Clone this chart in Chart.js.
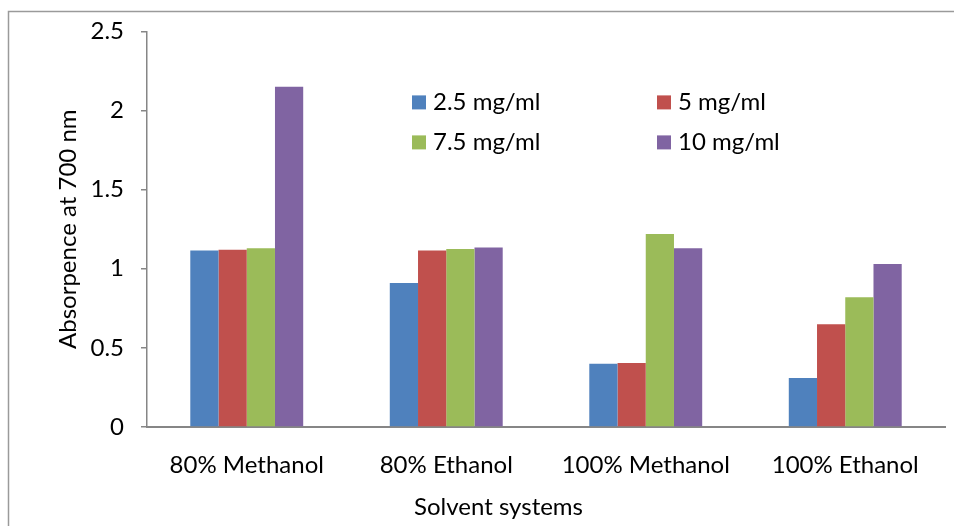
<!DOCTYPE html>
<html>
<head>
<meta charset="utf-8">
<script src="https://cdn.jsdelivr.net/npm/chart.js@4.4.1/dist/chart.umd.min.js"></script>
<style>
  html, body { margin: 0; padding: 0; background: #ffffff; }
  #wrap { width: 954px; height: 526px; position: relative; }
</style>
</head>
<body>
<div id="wrap"><canvas id="chart" width="954" height="526"></canvas></div>
<script>
// Solvent systems on the category axis
const solvents = ['80% Methanol', '80% Ethanol', '100% Methanol', '100% Ethanol'];

// Absorbance at 700 nm for each extract concentration
const conc25 = [1.115, 0.91, 0.40, 0.31];
const conc5 = [1.12, 1.115, 0.405, 0.65];
const conc75 = [1.13, 1.125, 1.22, 0.82];
const conc10 = [2.15, 1.135, 1.13, 1.03];

const seriesNames = ['2.5 mg/ml', '5 mg/ml', '7.5 mg/ml', '10 mg/ml'];
const yTickLabels = ['0', '0.5', '1', '1.5', '2', '2.5'];

const colors = ['#4F81BD', '#C0504D', '#9BBB59', '#8064A2'];
const FONT = 'Lato';

// Outer frame around the figure
const framePlugin = {
  id: 'frame',
  beforeDraw(chart) {
    const ctx = chart.ctx;
    ctx.save();
    ctx.fillStyle = '#ffffff';
    ctx.fillRect(0, 0, chart.width, chart.height);
    ctx.strokeStyle = '#9a9a9a';
    ctx.lineWidth = 1.5;
    ctx.strokeRect(8.5, 11.5, chart.width + 20, chart.height + 20);
    ctx.restore();
  }
};

// Two-column legend inside the plot area
const gridLegend = {
  id: 'gridLegend',
  afterDraw(chart) {
    const ctx = chart.ctx;
    const area = chart.chartArea;
    const colX = [area.left + 265, area.left + 510];
    const rowY = [area.top + 79, area.top + 119];
    ctx.save();
    ctx.font = '24px ' + FONT;
    ctx.textBaseline = 'alphabetic';
    ctx.textAlign = 'left';
    chart.data.datasets.forEach((ds, i) => {
      const x = colX[i % 2];
      const y = rowY[Math.floor(i / 2)];
      ctx.fillStyle = ds.backgroundColor;
      ctx.fillRect(x, y - 15, 14, 14);
      ctx.fillStyle = '#000000';
      ctx.fillText(ds.label, x + 21, y);
    });
    ctx.restore();
  }
};

const seriesValues = [conc25, conc5, conc75, conc10];

new Chart(document.getElementById('chart'), {
  type: 'bar',
  data: {
    labels: solvents,
    datasets: seriesNames.map((name, i) => ({
      label: name,
      data: seriesValues[i],
      backgroundColor: colors[i],
      borderWidth: 0,
      categoryPercentage: 0.566,
      barPercentage: 1.0
    }))
  },
  options: {
    responsive: false,
    animation: false,
    devicePixelRatio: 1,
    layout: { padding: { left: 52, top: 29, right: 9, bottom: 0 } },
    plugins: {
      legend: { display: false },
      tooltip: { enabled: false },
      title: {
        display: true,
        position: 'bottom',
        text: 'Solvent systems',
        color: '#000000',
        font: { family: FONT, size: 24, weight: 'normal' },
        padding: { top: 0, bottom: 4 }
      }
    },
    scales: {
      x: {
        grid: { display: false, drawTicks: false },
        border: { display: true, color: '#868686', width: 2 },
        ticks: {
          color: '#000000',
          font: { family: FONT, size: 24 },
          padding: 24,
          maxRotation: 0,
          autoSkip: false
        },
        afterFit(scale) { scale.height = 66.2; }
      },
      y: {
        min: 0,
        max: 2.5,
        ticks: {
          stepSize: 0.5,
          color: '#000000',
          font: { family: FONT, size: 24 },
          padding: 17,
          callback: (value, index) => yTickLabels[index]
        },
        grid: {
          display: true,
          drawOnChartArea: false,
          drawTicks: true,
          tickLength: 6,
          color: '#868686',
          lineWidth: 1.5
        },
        border: { display: true, color: '#868686', width: 1.5 },
        title: {
          display: true,
          text: 'Absorpence at 700 nm',
          color: '#000000',
          font: { family: FONT, size: 24, weight: 'normal' },
          padding: { top: 2, bottom: 0 }
        },
        afterFit(scale) { scale.width = 95; }
      }
    }
  },
  plugins: [framePlugin, gridLegend]
});
</script>
</body>
</html>
